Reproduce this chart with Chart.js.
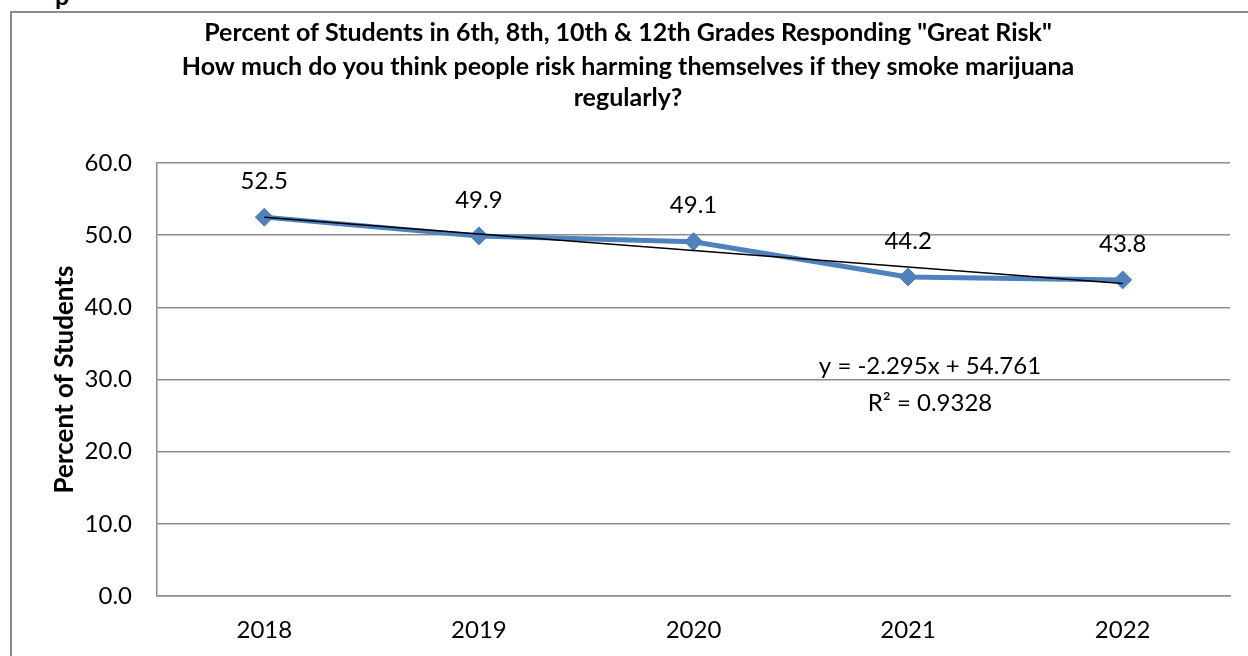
<!DOCTYPE html>
<html>
<head>
<meta charset="utf-8">
<script src="https://cdn.jsdelivr.net/npm/chart.js@4/dist/chart.umd.min.js"></script>
<style>
  html, body { margin: 0; padding: 0; background: #fff; overflow: hidden; }
  #wrap { position: relative; width: 1248px; height: 656px; }
  #frame { position: absolute; left: 10px; top: 11px; width: 1300px; height: 700px;
           border: 2px solid #8c8c8c; box-sizing: border-box; }
  #cut { position: absolute; left: 55px; top: -20px; font: bold 25px Lato, sans-serif; color: #000; }
  canvas { position: absolute; left: 0; top: 0; }
</style>
</head>
<body>
<div id="wrap">
  <div id="cut">p</div>
  <div id="frame"></div>
  <canvas id="myChart" width="1248" height="656"></canvas>
</div>
<script>
const years = ["2018", "2019", "2020", "2021", "2022"];
const greatRisk = [52.5, 49.9, 49.1, 44.2, 43.8];
// linear trend y = -2.295x + 54.761 at x = 1..5
const trendValues = [52.466, 50.171, 47.876, 45.581, 43.286];
const yTicks = [0, 10, 20, 30, 40, 50, 60];
const titleLines = [
  'Percent of Students in 6th, 8th, 10th & 12th Grades Responding "Great Risk"',
  'How much do you think people risk harming themselves if they smoke marijuana',
  'regularly?'
];
const trendLabel = ["y = -2.295x + 54.761", "R\u00b2 = 0.9328"];

const FONT = "Lato, 'Open Sans', sans-serif";

const extras = {
  id: "extras",
  afterDraw(chart) {
    const ctx = chart.ctx;
    ctx.save();
    ctx.fillStyle = "#000";
    ctx.textAlign = "center";
    ctx.textBaseline = "middle";

    // heading
    ctx.font = "bold 25px " + FONT;
    const titleY = [33, 67, 98];
    titleLines.forEach(function(t, i) { ctx.fillText(t, 628, titleY[i]); });

    // value labels above each point
    ctx.font = "24px " + FONT;
    const meta = chart.getDatasetMeta(1);
    meta.data.forEach(function(pt, i) {
      ctx.fillText(greatRisk[i].toFixed(1), pt.x, pt.y - 36);
    });

    // trendline equation
    ctx.fillText(trendLabel[0], 930, 366);
    ctx.fillText(trendLabel[1], 930, 403);
    ctx.restore();
  }
};

const ctx = document.getElementById("myChart").getContext("2d");
const chart = new Chart(ctx, {
  type: "line",
  data: {
    labels: years,
    datasets: [
      {
        label: "Linear trend",
        data: trendValues,
        borderColor: "#000",
        borderWidth: 1.5,
        pointRadius: 0,
        fill: false,
        order: 0
      },
      {
        label: "Great Risk",
        data: greatRisk,
        borderColor: "#4F81BD",
        backgroundColor: "#4F81BD",
        borderWidth: 5,
        pointStyle: "rectRot",
        pointRadius: 9,
        pointBorderWidth: 1,
        pointBorderColor: "#4F81BD",
        fill: false,
        order: 1
      }
    ]
  },
  plugins: [extras],
  options: {
    responsive: false,
    animation: false,
    layout: { padding: { top: 163, right: 18, bottom: 0, left: 0 } },
    plugins: {
      legend: { display: false },
      title: { display: false },
      tooltip: { enabled: false }
    },
    scales: {
      x: {
        offset: true,
        grid: { display: false, drawTicks: false },
        border: { display: true, color: "#8c8c8c", width: 1.5 },
        ticks: { color: "#000", font: { family: FONT, size: 24 }, padding: 20 },
        afterFit: function(scale) { scale.height = 60; }
      },
      y: {
        min: 0,
        max: 60,
        afterBuildTicks: function(scale) { scale.ticks = yTicks.map(function(v) { return { value: v }; }); },
        grid: { color: "#8c8c8c", lineWidth: 1.5, drawTicks: false },
        border: { display: true, color: "#8c8c8c", width: 1.5 },
        ticks: {
          color: "#000",
          font: { family: FONT, size: 24 },
          padding: 25,
          callback: function(v) { return Number(v).toFixed(1); }
        },
        title: {
          display: true,
          text: "Percent of Students",
          color: "#000",
          font: { family: FONT, size: 26, weight: "bold" },
          padding: { top: 49, bottom: 0 }
        },
        afterFit: function(scale) { scale.width = 157; }
      }
    }
  }
});
</script>
</body>
</html>
